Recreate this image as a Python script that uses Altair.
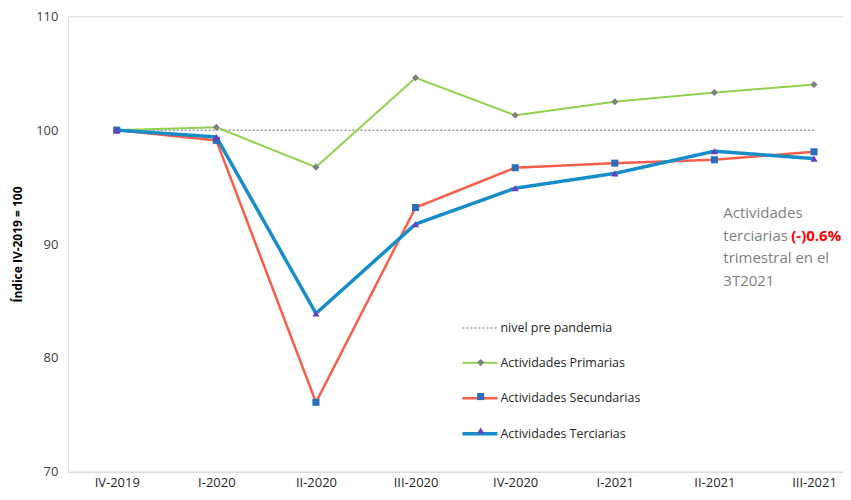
import json
import altair as alt
import pandas as pd

quarters = ["IV-2019", "I-2020", "II-2020", "III-2020", "IV-2020", "I-2021", "II-2021", "III-2021"]
series_names = ["nivel pre pandemia", "Actividades Primarias", "Actividades Secundarias", "Actividades Terciarias"]
nivel = [100, 100, 100, 100, 100, 100, 100, 100]
primarias = [100.0, 100.25, 96.75, 104.6, 101.3, 102.5, 103.3, 104.0]
secundarias = [100.0, 99.1, 76.1, 93.2, 96.7, 97.1, 97.4, 98.1]
terciarias = [100.0, 99.4, 83.9, 91.75, 94.9, 96.2, 98.15, 97.5]

line_colors = ["#999999", "#92d050", "#fb5d48", "#178dc8"]
line_widths = [1.5, 2, 2.5, 3.5]
line_dashes = [[2, 2], [1, 0], [1, 0], [1, 0]]
marker_series = series_names[1:]
marker_fills = ["#7f7f7f", "#2a6ebd", "#6f3cc0"]
marker_shapes = ["diamond", "square", "triangle-up"]

rows = []
for name, vals in zip(series_names, [nivel, primarias, secundarias, terciarias]):
    for i, (q, v) in enumerate(zip(quarters, vals)):
        rows.append({"serie": name, "idx": i, "trimestre": q, "valor": v})
df = pd.DataFrame(rows)

label_expr = json.dumps(quarters) + "[datum.value]"

x_enc = alt.X("idx:Q",
              scale=alt.Scale(domain=[-0.49, 7.291], nice=False, zero=False),
              axis=alt.Axis(values=list(range(len(quarters))), labelExpr=label_expr,
                            title=None, grid=False, ticks=False, domain=True,
                            domainColor="#d9d9d9", domainWidth=1.2,
                            labelPadding=5, labelFont="Open Sans", labelFontSize=13,
                            labelColor="#262626"))
y_enc = alt.Y("valor:Q",
              scale=alt.Scale(domain=[70, 110], nice=False, zero=False),
              axis=alt.Axis(values=[70, 80, 90, 100, 110], title="Índice IV-2019 = 100",
                            grid=False, ticks=False, domain=False,
                            labelPadding=10, labelFont="Open Sans", labelFontSize=13,
                            labelColor="#404040", titleFont="Open Sans", titleFontSize=12,
                            titleFontWeight="bold", titleColor="#000000", titlePadding=11))

line_legend = alt.Legend(title=None, orient="none", legendX=393, legendY=293.5,
                         symbolType="stroke", symbolSize=1225, gridAlign="all",
                         labelFont="Open Sans", labelFontSize=12.5,
                         labelColor="#262626", rowPadding=8, labelOffset=1,
                         padding=0)

lines = alt.Chart(df).mark_line().encode(
    x=x_enc,
    y=y_enc,
    color=alt.Color("serie:N", scale=alt.Scale(domain=series_names, range=line_colors),
                    legend=line_legend),
    strokeDash=alt.StrokeDash("serie:N", scale=alt.Scale(domain=series_names, range=line_dashes),
                              legend=line_legend),
    strokeWidth=alt.StrokeWidth("serie:N",
                                scale=alt.Scale(type="ordinal", domain=series_names, range=line_widths),
                                legend=line_legend),
)

marker_legend = alt.Legend(title=None, orient="none", legendX=407, legendY=340.5,
                           gridAlign="all",
                           labelFont="Open Sans", labelFontSize=12.5,
                           labelColor="transparent", rowPadding=21, padding=0,
                           symbolSize=50, symbolStrokeWidth=0)

points = alt.Chart(df).transform_filter(
    alt.FieldOneOfPredicate(field="serie", oneOf=marker_series)
).mark_point(filled=True, opacity=1, strokeWidth=0).encode(
    x="idx:Q",
    y="valor:Q",
    fill=alt.Fill("serie:N", scale=alt.Scale(domain=marker_series, range=marker_fills),
                  legend=marker_legend),
    shape=alt.Shape("serie:N", scale=alt.Scale(domain=marker_series, range=marker_shapes),
                    legend=marker_legend),
    size=alt.value(50),
)

ann_x = [6.09]
ann_y = [93.3]
ann_df = pd.DataFrame({"x": ann_x, "y": ann_y})

ann_gray = alt.Chart(ann_df).mark_text(
    align="left", baseline="top", font="Open Sans", fontSize=15, color="#7f7f7f",
    lineHeight=22.5
).encode(x="x:Q", y="y:Q",
         text=alt.value(["Actividades", "terciarias", "trimestral en el", "3T2021"]))

ann_red = alt.Chart(ann_df).mark_text(
    align="left", baseline="top", font="Open Sans", fontSize=15, color="#ff0000",
    fontWeight="bold", dx=68, dy=22.5
).encode(x="x:Q", y="y:Q", text=alt.value("(-)0.6%"))

chart = alt.layer(lines, points, ann_gray, ann_red).properties(
    width=776, height=456,
    padding={"left": 3, "top": 2, "right": 0, "bottom": 0},
).configure_view(stroke=None).configure(background="white")

chart.save("out.html", embed_options={"renderer": "svg", "actions": False})
